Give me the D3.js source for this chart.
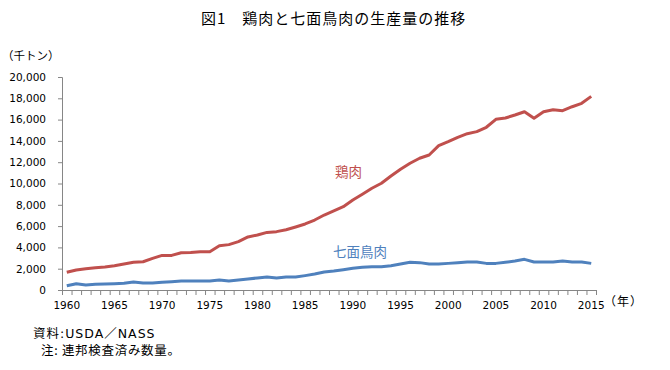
<!DOCTYPE html>
<html>
<head>
<meta charset="utf-8">
<script src="https://cdn.jsdelivr.net/npm/d3@7"></script>
<style>
body { margin: 0; background: #fff; }
svg { display: block; }
.tick text { font-family: "DejaVu Sans", sans-serif; font-size: 10.5px; fill: #000; }
</style>
</head>
<body>
<div id="container"></div>
<script>
// data (thousand tons)
const years = d3.range(1960, 2016);
const chicken = [1660, 1880, 2000, 2090, 2160, 2280, 2440, 2600, 2650, 2970,
  3250, 3250, 3500, 3520, 3600, 3600, 4160, 4260, 4540, 4980,
  5160, 5410, 5480, 5660, 5920, 6200, 6570, 7040, 7420, 7820,
  8450, 8990, 9550, 10020, 10700, 11330, 11900, 12370, 12680, 13550,
  13930, 14340, 14680, 14870, 15280, 16030, 16150, 16430, 16740, 16120,
  16740, 16930, 16840, 17210, 17530, 18180];
const turkey = [400, 590, 470, 540, 560, 590, 630, 750, 660, 660,
  720, 780, 850, 850, 850, 850, 940, 850, 940, 1030,
  1130, 1220, 1130, 1220, 1220, 1350, 1500, 1690, 1780, 1900,
  2040, 2130, 2190, 2190, 2280, 2440, 2600, 2570, 2440, 2440,
  2500, 2570, 2630, 2630, 2500, 2500, 2600, 2720, 2880, 2630,
  2630, 2630, 2720, 2630, 2630, 2500];
const yTicks = [0, 2000, 4000, 6000, 8000, 10000, 12000, 14000, 16000, 18000, 20000];
const xLabels = [1960, 1965, 1970, 1975, 1980, 1985, 1990, 1995, 2000, 2005, 2010, 2015];

const width = 670;
const height = 370;
const plotLeft = 62, plotRight = 596, plotTop = 77, plotBottom = 290;
const red = "#c0504d", blue = "#4f81bd";
const cjk = '"Noto Sans CJK JP", sans-serif';

const svg = d3.select("div#container").append("svg")
    .attr("width", width)
    .attr("height", height);

//----------------------------SCALES----------------------------//
const x = d3.scaleBand().domain(years).range([plotLeft, plotRight]);
const y = d3.scaleLinear().domain([0, 20000]).range([plotBottom, plotTop]);
const cx = d => x(d) + x.bandwidth() / 2;

//-----------------------------AXES-----------------------------//
const yaxis = d3.axisLeft(y)
    .tickValues(yTicks)
    .tickSize(4)
    .tickPadding(12)
    .tickFormat(d3.format(","));

svg.append("g")
    .attr("transform", "translate(" + plotLeft + ",0)")
    .call(yaxis)
    .call(g => g.selectAll("line, path").attr("stroke", "#868686"));

const xaxis = d3.axisBottom(x)
    .tickValues(xLabels)
    .tickSize(0)
    .tickPadding(12);

svg.append("g")
    .attr("transform", "translate(0," + plotBottom + ")")
    .call(xaxis)
    .call(g => g.select(".domain").remove());

// category boundary ticks
const edges = years.map(d => x(d)).concat([plotRight]);
svg.append("g").selectAll("line")
    .data(edges)
    .enter().append("line")
    .attr("x1", d => d + 0.5).attr("x2", d => d + 0.5)
    .attr("y1", plotBottom).attr("y2", plotBottom + 5)
    .attr("stroke", "#868686");

svg.append("line")
    .attr("x1", plotLeft).attr("x2", plotRight)
    .attr("y1", plotBottom + 0.5).attr("y2", plotBottom + 0.5)
    .attr("stroke", "#868686");

//----------------------------LINES-----------------------------//
const line = d3.line()
    .x((d, i) => cx(years[i]))
    .y(d => y(d));

svg.append("path")
    .attr("d", line(turkey))
    .attr("fill", "none")
    .attr("stroke", blue)
    .attr("stroke-width", 3)
    .attr("stroke-linejoin", "round");

svg.append("path")
    .attr("d", line(chicken))
    .attr("fill", "none")
    .attr("stroke", red)
    .attr("stroke-width", 3)
    .attr("stroke-linejoin", "round");

//----------------------------TEXT------------------------------//
svg.append("text")
    .attr("x", 201).attr("y", 20)
    .attr("dominant-baseline", "middle")
    .style("font-family", cjk).style("font-size", "15px")
    .style("letter-spacing", "1px")
    .text("図1　鶏肉と七面鳥肉の生産量の推移");

svg.append("text")
    .attr("x", 2).attr("y", 57)
    .attr("dominant-baseline", "middle")
    .style("font-family", cjk).style("font-size", "11.5px")
    .text("（千トン）");

svg.append("text")
    .attr("x", 604).attr("y", 303)
    .attr("dominant-baseline", "middle")
    .style("font-family", cjk).style("font-size", "12px")
    .style("letter-spacing", "1px")
    .text("（年）");

svg.append("text")
    .attr("x", 335).attr("y", 173)
    .attr("dominant-baseline", "middle")
    .style("font-family", cjk).style("font-size", "13.5px")
    .style("fill", red)
    .text("鶏肉");

svg.append("text")
    .attr("x", 333).attr("y", 253)
    .attr("dominant-baseline", "middle")
    .style("font-family", cjk).style("font-size", "13.5px")
    .style("fill", blue)
    .text("七面鳥肉");

svg.append("text")
    .attr("x", 33).attr("y", 334)
    .attr("dominant-baseline", "middle")
    .style("font-family", '"DejaVu Sans", "Noto Sans CJK JP", sans-serif').style("font-size", "12.5px")
    .style("letter-spacing", "1px")
    .text("資料:USDA／NASS");

svg.append("text")
    .attr("x", 41).attr("y", 352)
    .attr("dominant-baseline", "middle")
    .style("font-family", cjk).style("font-size", "12.5px")
    .style("letter-spacing", "0.7px")
    .text("注: 連邦検査済み数量。");
</script>
</body>
</html>
